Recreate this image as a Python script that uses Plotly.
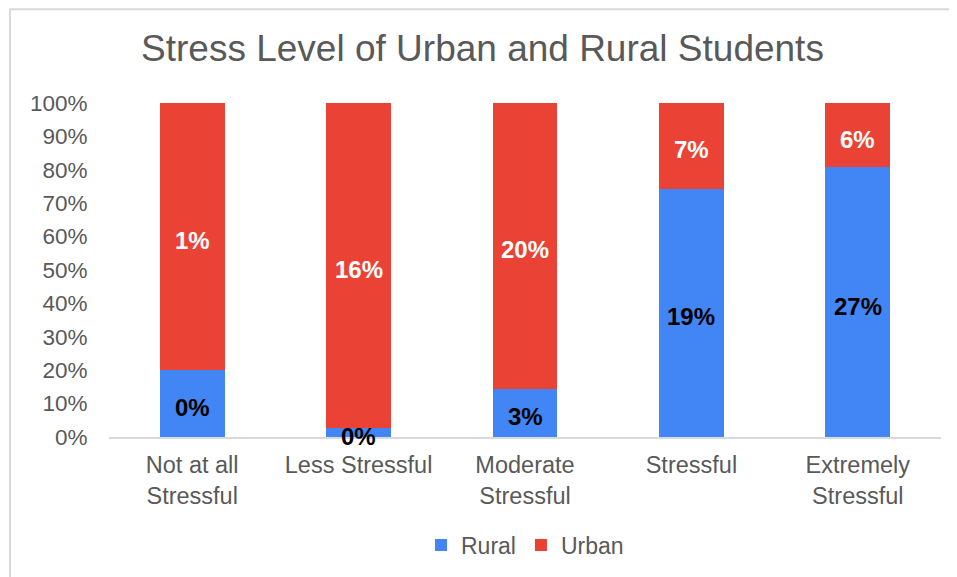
import plotly.graph_objects as go

categories = ["Not at all<br>Stressful", "Less Stressful", "Moderate<br>Stressful", "Stressful", "Extremely<br>Stressful"]
rural = [0.25, 0.42, 3.4, 19.4, 27.0]
urban = [1.0, 15.8, 20.2, 6.7, 6.4]
y_ticks = [0, 10, 20, 30, 40, 50, 60, 70, 80, 90, 100]
y_tick_labels = [f"{t}%" for t in y_ticks]

FONT = "Liberation Sans, Arial, sans-serif"
GRAY = "#595959"

totals = [r + u for r, u in zip(rural, urban)]
rural_share = [100 * r / t for r, t in zip(rural, totals)]
rural_mid = [s / 2 for s in rural_share]
urban_mid = [s + (100 - s) / 2 for s in rural_share]

fig = go.Figure()
fig.add_trace(go.Bar(
    name="Rural", x=categories, y=rural,
    marker=dict(color="#4285F4", line=dict(width=0)),
    textposition="none", width=0.39,
))
fig.add_trace(go.Bar(
    name="Urban", x=categories, y=urban,
    marker=dict(color="#EA4335", line=dict(width=0)),
    textposition="none", width=0.39,
))

for cat, ym, v in zip(categories, urban_mid, urban):
    fig.add_annotation(x=cat, y=ym, xref="x", yref="y", text=f"{v:.0f}%", showarrow=False,
                       yshift=-4, font=dict(family=FONT, size=24, color="white", weight="bold"))
for cat, ym, v in zip(categories, rural_mid, rural):
    fig.add_annotation(x=cat, y=ym, xref="x", yref="y", text=f"{v:.0f}%", showarrow=False,
                       yshift=-4, font=dict(family=FONT, size=24, color="black", weight="bold"))

fig.update_layout(
    barmode="stack", barnorm="percent",
    width=949, height=569,
    margin=dict(l=101, r=16, t=95, b=140, autoexpand=False),
    paper_bgcolor="white", plot_bgcolor="white",
    font=dict(family=FONT, size=23, color=GRAY),
    title=dict(text="Stress Level of Urban and Rural Students", x=0.5, xanchor="center",
               y=0.93, yanchor="middle", font=dict(family=FONT, size=37, color=GRAY)),
    legend=dict(orientation="h", x=0.5, xanchor="center", yref="container", y=0.056,
                yanchor="middle",
                font=dict(family=FONT, size=23, color=GRAY), traceorder="normal",
                itemwidth=30),
    showlegend=True,
)
fig.update_xaxes(showline=True, linecolor="#d9d9d9", linewidth=2, ticks="outside",
                 ticklen=6, tickcolor="rgba(0,0,0,0)", tickfont=dict(size=23.5, color=GRAY),
                 showgrid=False)
fig.update_yaxes(range=[0, 100], tickvals=y_ticks, ticktext=y_tick_labels, showgrid=False,
                 zeroline=False, showline=False, ticks="outside", ticklen=16,
                 tickcolor="rgba(0,0,0,0)", tickfont=dict(size=22.5, color=GRAY))

fig.add_shape(type="rect", xref="paper", yref="paper", x0=-0.119, x1=1.2, y0=-0.7, y1=1.281,
              line=dict(color="#d9d9d9", width=2), fillcolor="rgba(0,0,0,0)", layer="below")

fig.write_html("out.html")
